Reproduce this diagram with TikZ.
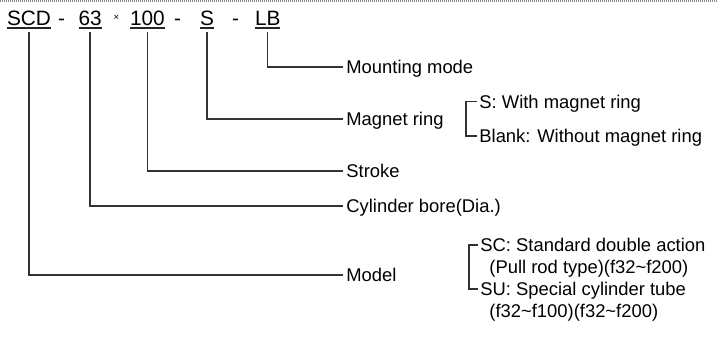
\documentclass[tikz,border=0pt]{standalone}
\usepackage{fontspec}
\setmainfont{Liberation Sans}
\begin{document}
\begin{tikzpicture}[x=0.5pt,y=-0.5pt,
    part/.style={font=\fontsize{10.4}{12}\selectfont,inner sep=0pt,outer xsep=0pt,outer ysep=3.5pt,anchor=base west,text depth=0pt},
    lbl/.style={font=\fontsize{9.2}{11}\selectfont,inner xsep=1.5pt,inner ysep=0pt,anchor=west,text height=6.6pt,text depth=0pt},
    opt/.style={lbl,inner xsep=1pt},
    conn/.style={line width=0.6pt,black!80},
    uline/.style={line width=1pt,black!85}]
    \useasboundingbox (0,0) rectangle (718,361);
    \draw[black!45,line width=0.6pt,dash pattern=on 0.5pt off 0.5pt] (0,1) -- (718,1);
    \node[part] (pscd) at (7,25) {SCD};
    \node[part] (dasha) at (58,25) {-};
    \node[part] (pbore) at (78.5,25) {63};
    \node[font=\fontsize{4.8}{6}\selectfont,inner sep=0pt] (times) at (116.5,18) {×};
    \node[part] (pstroke) at (130,25) {100};
    \node[part] (dashb) at (174,25) {-};
    \node[part] (pmag) at (200,25) {S};
    \node[part] (dashc) at (232,25) {-};
    \node[part] (pmount) at (255,25) {LB};
    \foreach \p in {pscd,pbore,pstroke,pmag,pmount}
      \draw[uline] ([yshift=-1.65pt]\p.base west) -- ([yshift=-1.65pt]\p.base east);
    \node[lbl] (lmount) at (343,67) {Mounting mode};
    \node[lbl] (lmag) at (343,119) {Magnet ring};
    \node[lbl] (lstroke) at (343,171) {Stroke};
    \node[lbl] (lbore) at (343,206) {Cylinder bore(Dia.)};
    \node[lbl] (lmodel) at (343,275) {Model};
    \draw[conn] (pmount.south) |- (lmount.west);
    \draw[conn] (pmag.south) |- (lmag.west);
    \draw[conn] (pstroke.south) |- (lstroke.west);
    \draw[conn] (pbore.south) |- (lbore.west);
    \draw[conn] (pscd.south) |- (lmodel.west);
    \node[opt] (swith) at (477,101.5) {S: With magnet ring};
    \node[opt] (sblank) at (477,136) {Blank: Without magnet ring};
    \draw[conn] (swith.west) -- ++(-11,0) |- (sblank.west);
    \node[opt] (sc) at (478,245) {SC: Standard double action};
    \node[opt] (scrange) at (487,267) {(Pull rod type)(f32\textasciitilde f200)};
    \node[opt] (su) at (478,289) {SU: Special cylinder tube};
    \node[opt] (surange) at (487,311) {(f32\textasciitilde f100)(f32\textasciitilde f200)};
    \draw[conn] (sc.west) -- ++(-9,0) |- (su.west);
\end{tikzpicture}
\end{document}
